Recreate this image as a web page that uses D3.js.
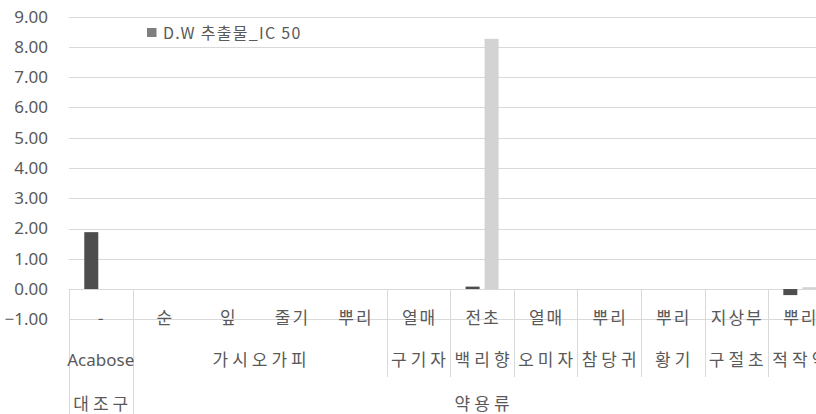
<!DOCTYPE html>
<html><head><meta charset="utf-8">
<script src="https://cdn.jsdelivr.net/npm/d3@7"></script>
<style>
html,body{margin:0;padding:0;background:#fff;}
svg{display:block;font-family:"Noto Sans CJK KR","Noto Sans",sans-serif;}
</style></head>
<body><svg id="c" width="816" height="414"></svg>
<script>
const partLabels = ["-", "순", "잎", "줄기", "뿌리", "열매", "전초", "열매", "뿌리", "뿌리", "지상부", "뿌리"];
const plantGroups = ["Acabose", "가시오가피", "구기자", "백리향", "오미자", "참당귀", "황기", "구절초", "적작약"];
const plantSpans = [1, 4, 1, 1, 1, 1, 1, 1, 1];
const typeGroups = ["대조구", "약용류"];
const typeSpans = [1, 11];
const dwValues = [1.88, null, null, null, null, null, 0.08, null, null, null, null, -0.20];
const otherValues = [null, null, null, null, null, null, 8.27, null, null, null, null, 0.06];
const seriesNames = ["D.W 추출물_IC 50", "기타"];
const yTicks = [-1, 0, 1, 2, 3, 4, 5, 6, 7, 8, 9];

const svg = d3.select("#c");
const x0 = 69, step = 63.55, n = partLabels.length;
const x = d3.scaleBand().domain(d3.range(n)).range([x0, x0 + n * step]).paddingInner(0).paddingOuter(0);
const inner = d3.scaleBand().domain(seriesNames).range([x.bandwidth()/2 - 16.5, x.bandwidth()/2 + 16.5]).paddingInner(0.263);
const y = d3.scaleLinear().domain([-1, 9]).range([319.3, 16.7]);
const textCol = "#595959";

// gridlines
svg.append("g").selectAll("line").data(yTicks).join("line")
  .attr("x1", x0).attr("x2", x0 + n * step)
  .attr("y1", d => Math.round(y(d)) + 0.5).attr("y2", d => Math.round(y(d)) + 0.5)
  .attr("stroke", "#d9d9d9").attr("stroke-width", 1);

// y axis labels
const yAxis = d3.axisLeft(y).tickValues(yTicks).tickFormat(d3.format(".2f")).tickSize(0).tickPadding(0);
const ga = svg.append("g").attr("transform", "translate(48,0)").call(yAxis);
ga.select(".domain").remove();
ga.selectAll("text").attr("fill", textCol).style("font-size", "17px")
  .style("font-family", "'Noto Sans','Open Sans',sans-serif");

// bars
const bars = [];
dwValues.forEach((v, i) => { if (v !== null) bars.push({i, v, s: seriesNames[0], c: "#4d4d4d"}); });
otherValues.forEach((v, i) => { if (v !== null) bars.push({i, v, s: seriesNames[1], c: "#d3d3d3"}); });
svg.append("g").selectAll("rect").data(bars).join("rect")
  .attr("x", d => x(d.i) + inner(d.s))
  .attr("width", inner.bandwidth())
  .attr("y", d => y(Math.max(0, d.v)))
  .attr("height", d => Math.abs(y(d.v) - y(0)))
  .attr("fill", d => d.c);

// category boundary lines
const lineCol = "#d9d9d9";
function boundaries(spans) { const b = [0]; let s = 0; spans.forEach(k => { s += k; b.push(s); }); return b; }
const b2 = boundaries(plantSpans), b3 = boundaries(typeSpans);
svg.append("g").selectAll("line").data(b2).join("line")
  .attr("x1", d => Math.round(x0 + d * step) + 0.5).attr("x2", d => Math.round(x0 + d * step) + 0.5)
  .attr("y1", y(0)).attr("y2", 377).attr("stroke", lineCol);
svg.append("g").selectAll("line").data(b3).join("line")
  .attr("x1", d => Math.round(x0 + d * step) + 0.5).attr("x2", d => Math.round(x0 + d * step) + 0.5)
  .attr("y1", y(0)).attr("y2", 414).attr("stroke", lineCol);

function label(sel, sp) {
  return sel.attr("dy", "0.35em").attr("text-anchor", "middle")
    .attr("fill", textCol).style("font-size", "17px")
    .style("letter-spacing", sp + "px");
}
// level 1 labels
label(svg.append("g").selectAll("text").data(partLabels).join("text")
  .attr("x", (d, i) => x(i) + x.bandwidth()/2 + 1).attr("y", 318), 2).text(d => d);

// level 2 labels
label(svg.append("g").selectAll("text").data(plantGroups).join("text")
  .attr("x", (d, i) => x0 + (b2[i] + b2[i+1]) / 2 * step + (d === "Acabose" ? 0 : 2))
  .attr("y", 360), 4)
  .style("letter-spacing", d => d === "Acabose" ? "0px" : "4px")
  .style("font-family", d => d === "Acabose" ? "'Noto Sans',sans-serif" : null)
  .text(d => d);

// level 3 labels
label(svg.append("g").selectAll("text").data(typeGroups).join("text")
  .attr("x", (d, i) => x0 + (b3[i] + b3[i+1]) / 2 * step + 2).attr("y", 404), 4).text(d => d);

// legend
const lg = svg.append("g").attr("transform", "translate(147,28)");
lg.append("rect").attr("width", 9.5).attr("height", 9).attr("fill", "#7f7f7f");
lg.append("text").attr("x", 16).attr("y", 5).attr("dy", "0.35em")
  .attr("fill", textCol).style("font-size", "16px").style("letter-spacing", "1.3px")
  .text(seriesNames[0]);
</script></body></html>
